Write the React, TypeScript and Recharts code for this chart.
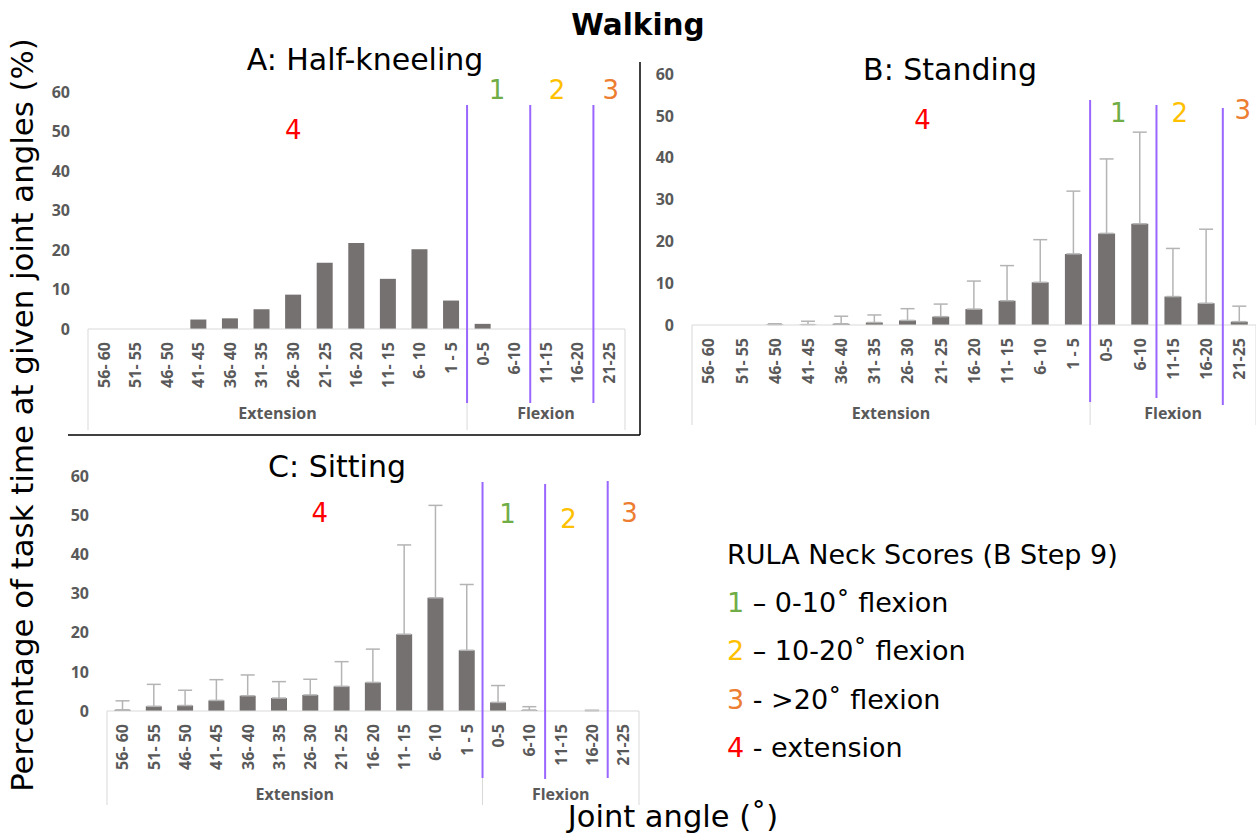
import React from "react";
import { BarChart, Bar, XAxis, YAxis, ErrorBar } from "recharts";

const categories = [
  "56- 60", "51- 55", "46- 50", "41- 45", "36- 40", "31- 35", "26- 30", "21- 25",
  "16- 20", "11- 15", "6- 10", "1 - 5", "0-5", "6-10", "11-15", "16-20", "21-25",
];

// mean % of task time per joint angle bin
const halfKneeling = [0, 0, 0, 2.4, 2.7, 5.0, 8.7, 16.8, 21.8, 12.7, 20.2, 7.2, 1.3, 0, 0, 0, 0];
const standingMean = [0, 0, 0.1, 0.1, 0.3, 0.6, 1.1, 2.0, 3.8, 5.8, 10.2, 17.0, 21.9, 24.2, 6.8, 5.2, 0.8];
const standingUpper = [null, null, 0.3, 0.9, 2.1, 2.4, 3.9, 5.0, 10.5, 14.2, 20.4, 32.0, 39.7, 46.1, 18.3, 22.9, 4.5];
const sittingMean = [0.3, 1.2, 1.4, 2.7, 3.9, 3.3, 4.1, 6.3, 7.3, 19.6, 28.9, 15.5, 2.2, 0.25, 0, 0.05, 0];
const sittingUpper = [2.6, 6.8, 5.3, 8.0, 9.2, 7.5, 8.1, 12.6, 15.8, 42.4, 52.5, 32.3, 6.5, 1.1, null, 0.2, null];

const yTicks = [0, 10, 20, 30, 40, 50, 60];

const SCORE_COLORS: Record<string, string> = {
  "1": "#70ad47",
  "2": "#ffc000",
  "3": "#ed7d31",
  "4": "#ff0000",
};

const legendItems = [
  { num: "1", text: " – 0-10˚ flexion" },
  { num: "2", text: " – 10-20˚ flexion" },
  { num: "3", text: " - >20˚ flexion" },
  { num: "4", text: " - extension" },
];

const FONT = "'DejaVu Sans', Verdana, sans-serif";
const TICK_FONT = "'Open Sans', sans-serif";
const PURPLE = "#9966ff";
const BAR = "#767171";
const AXIS_GREY = "#595959";

interface PanelCfg {
  left: number;
  top: number;
  width: number;
  height: number;
  margin: { top: number; right: number; bottom: number; left: number };
  values: number[];
  upper?: (number | null)[];
  boxBottom: number; // page y
  groupLabelY: number; // page y
  purple: { i: number; side: number; y1: number; y2: number }[];
  scores: { i: number; dx: number; y: number; text: string }[];
}

const panelA: PanelCfg = {
  left: 0, top: 60, width: 640, height: 380,
  margin: { top: 32, right: 15, bottom: 11, left: 48 },
  values: halfKneeling,
  boxBottom: 430, groupLabelY: 413,
  purple: [
    { i: 12, side: -1, y1: 105, y2: 403 },
    { i: 13, side: 1, y1: 105, y2: 403 },
    { i: 15, side: 1, y1: 105, y2: 403 },
  ],
  scores: [
    { i: 6, dx: 0, y: 130, text: "4" },
    { i: 12, dx: 0.45, y: 90, text: "1" },
    { i: 14, dx: 0.35, y: 90, text: "2" },
    { i: 16, dx: 0.05, y: 90, text: "3" },
  ],
};

const panelB: PanelCfg = {
  left: 640, top: 60, width: 616, height: 370,
  margin: { top: 14, right: 0, bottom: 5, left: 12 },
  values: standingMean, upper: standingUpper,
  boxBottom: 425, groupLabelY: 413,
  purple: [
    { i: 12, side: -1, y1: 100, y2: 402 },
    { i: 13, side: 1, y1: 105, y2: 398 },
    { i: 15, side: 1, y1: 108, y2: 405 },
  ],
  scores: [
    { i: 6, dx: 0.45, y: 120, text: "4" },
    { i: 12, dx: 0.35, y: 113, text: "1" },
    { i: 14, dx: 0.2, y: 113, text: "2" },
    { i: 16, dx: 0.1, y: 110, text: "3" },
  ],
};

const panelC: PanelCfg = {
  left: 0, top: 460, width: 660, height: 360,
  margin: { top: 16, right: 21, bottom: 9, left: 67 },
  values: sittingMean, upper: sittingUpper,
  boxBottom: 805, groupLabelY: 794,
  purple: [
    { i: 12, side: -1, y1: 482, y2: 778 },
    { i: 13, side: 1, y1: 484, y2: 779 },
    { i: 15, side: 1, y1: 481, y2: 778 },
  ],
  scores: [
    { i: 6, dx: 0.3, y: 513, text: "4" },
    { i: 12, dx: 0.3, y: 514, text: "1" },
    { i: 14, dx: 0.25, y: 519, text: "2" },
    { i: 16, dx: 0.2, y: 513, text: "3" },
  ],
};

function makeTick(cfg: PanelCfg) {
  const plotW = cfg.width - cfg.margin.left - cfg.margin.right - 40;
  const w = plotW / categories.length;
  const axisY = cfg.height - cfg.margin.bottom - 100;
  const py = (v: number) => v - cfg.top;
  return (props: any) => {
    const { x, payload } = props;
    const index = props.index ?? categories.indexOf(payload.value);
    const ly = axisY + 13;
    const grey = "#d9d9d9";
    return (
      <g>
        <text
          x={x}
          y={ly}
          transform={`rotate(-90 ${x} ${ly})`}
          textAnchor="end"
          dy="0.36em"
          fontSize={16}
          fontWeight={700}
          fontFamily={TICK_FONT}
          fill={AXIS_GREY}
        >
          {payload.value}
        </text>
        {index === 0 && (
          <>
            <line x1={x - w / 2} x2={x - w / 2} y1={axisY} y2={py(cfg.boxBottom)} stroke={grey} />
            <text x={x + 5.5 * w} y={py(cfg.groupLabelY)} textAnchor="middle" dominantBaseline="central"
              fontSize={16} fontWeight={700} fontFamily={TICK_FONT} fill={AXIS_GREY}>Extension</text>
          </>
        )}
        {index === 12 && (
          <>
            <line x1={x - w / 2} x2={x - w / 2} y1={axisY} y2={py(cfg.boxBottom)} stroke={grey} />
            <text x={x + 2 * w} y={py(cfg.groupLabelY)} textAnchor="middle" dominantBaseline="central"
              fontSize={16} fontWeight={700} fontFamily={TICK_FONT} fill={AXIS_GREY}>Flexion</text>
          </>
        )}
        {index === 16 && (
          <line x1={x + w / 2} x2={x + w / 2} y1={axisY} y2={py(cfg.boxBottom)} stroke={grey} />
        )}
        {cfg.purple.filter((p) => p.i === index).map((p, k) => (
          <line key={`p${k}`} x1={x + (p.side * w) / 2} x2={x + (p.side * w) / 2}
            y1={py(p.y1)} y2={py(p.y2)} stroke={PURPLE} strokeWidth={2} />
        ))}
        {cfg.scores.filter((s) => s.i === index).map((s, k) => (
          <text key={`s${k}`} x={x + s.dx * w} y={py(s.y)} textAnchor="middle" dominantBaseline="central"
            fontSize={26} fontFamily={FONT} fill={SCORE_COLORS[s.text]}>{s.text}</text>
        ))}
      </g>
    );
  };
}

function Panel({ cfg }: { cfg: PanelCfg }) {
  const data = categories.map((name, i) => {
    const up = cfg.upper ? cfg.upper[i] : null;
    return {
      name,
      value: cfg.values[i],
      err: up == null ? null : [0, Math.max(0, up - cfg.values[i])],
    };
  });
  return (
    <div style={{ position: "absolute", left: cfg.left, top: cfg.top }}>
      <BarChart width={cfg.width} height={cfg.height} data={data} margin={cfg.margin} barCategoryGap="24%">
        <XAxis
          dataKey="name"
          interval={0}
          tickLine={false}
          axisLine={{ stroke: "#d9d9d9" }}
          height={100}
          tick={makeTick(cfg)}
        />
        <YAxis
          type="number"
          domain={[0, 60]}
          ticks={yTicks}
          width={40}
          axisLine={false}
          tickLine={false}
          tickSize={0}
          tickMargin={18}
          tick={{ fontSize: 16, fontWeight: 700, fontFamily: TICK_FONT, fill: AXIS_GREY }}
        />
        <Bar dataKey="value" fill={BAR} isAnimationActive={false}>
          {cfg.upper && (
            <ErrorBar dataKey="err" direction="y" width={7} stroke="#b4b4b4" strokeWidth={1.5} />
          )}
        </Bar>
      </BarChart>
    </div>
  );
}

export default function App() {
  return (
    <div style={{ position: "absolute", left: 0, top: 0, width: 1256, height: 834, background: "#fff", fontFamily: FONT }}>
      <svg width={1256} height={834} style={{ position: "absolute", left: 0, top: 0 }}>
        <text x={638} y={35} textAnchor="middle" fontSize={29.5} fontWeight="bold" fontFamily={FONT}>Walking</text>
        <text x={365} y={70} textAnchor="middle" fontSize={30} fontFamily={FONT}>A: Half-kneeling</text>
        <text x={950} y={80} textAnchor="middle" fontSize={30} fontFamily={FONT}>B: Standing</text>
        <text x={337} y={477} textAnchor="middle" fontSize={30} fontFamily={FONT}>C: Sitting</text>
        <text x={22} y={415} transform="rotate(-90 22 415)" textAnchor="middle" dominantBaseline="central"
          fontSize={30.8} fontFamily={FONT}>Percentage of task time at given joint angles (%)</text>
        <text x={673} y={827} textAnchor="middle" fontSize={30.5} fontFamily={FONT}>Joint angle (˚)</text>
        <line x1={68} x2={640} y1={435} y2={435} stroke="#000" strokeWidth={1.5} />
        <line x1={640} x2={640} y1={62} y2={435} stroke="#000" strokeWidth={1.5} />
        <text x={727} y={564} fontSize={27} fontFamily={FONT}>RULA Neck Scores (B Step 9)</text>
        {legendItems.map((item, i) => (
          <text key={item.num} x={727} y={612 + i * 48.3} fontSize={27} fontFamily={FONT}>
            <tspan fill={SCORE_COLORS[item.num]}>{item.num}</tspan>
            <tspan fill="#000">{item.text}</tspan>
          </text>
        ))}
      </svg>
      <Panel cfg={panelA} />
      <Panel cfg={panelB} />
      <Panel cfg={panelC} />
    </div>
  );
}
